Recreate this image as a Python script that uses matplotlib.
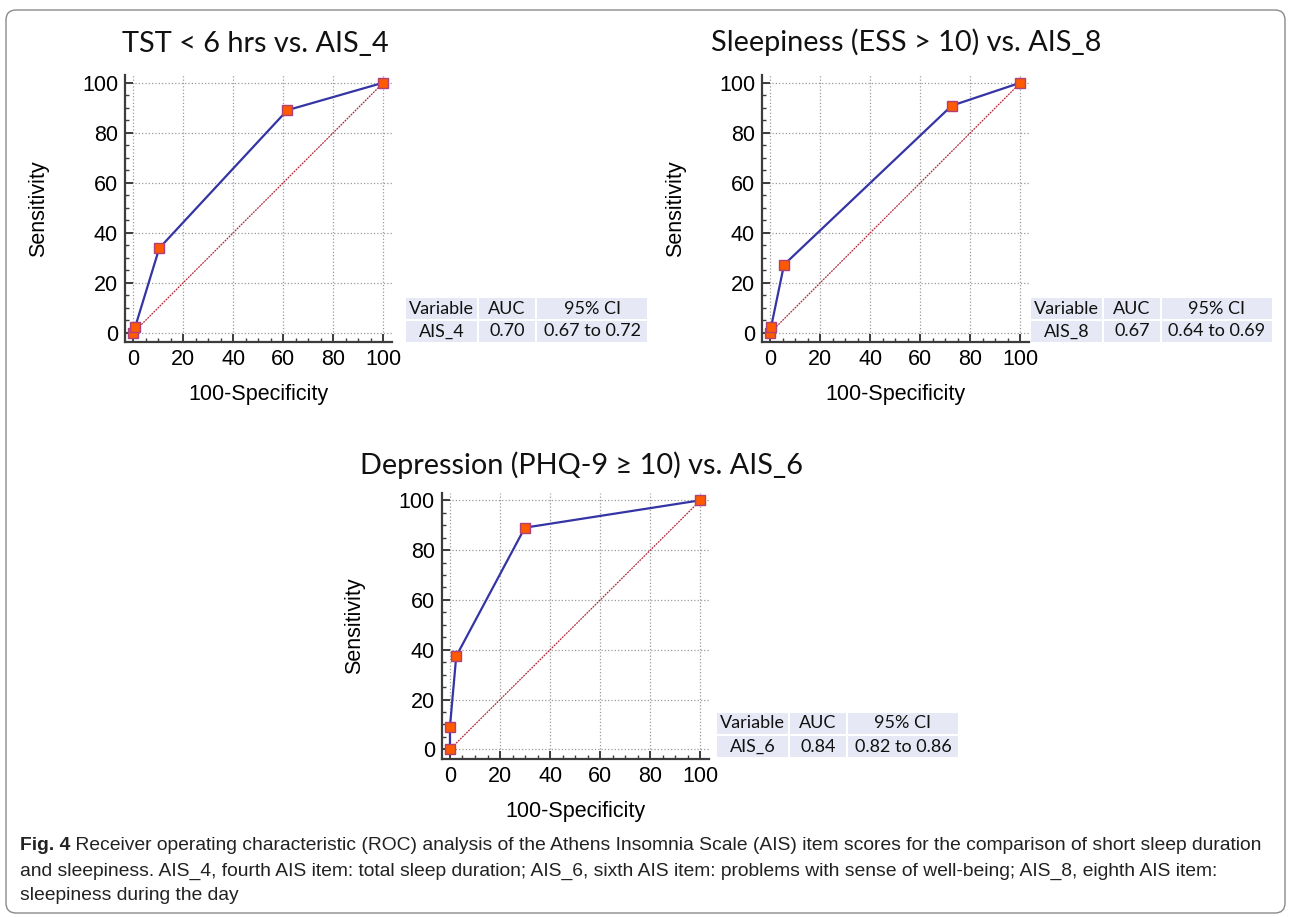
import matplotlib
matplotlib.use("Agg")
import matplotlib.pyplot as plt
from matplotlib.patches import Rectangle, FancyBboxPatch
from matplotlib.transforms import IdentityTransform
from matplotlib.ticker import MultipleLocator

W, H = 1290, 917

# ROC points (100-Specificity, Sensitivity)
fpr_ais4 = [0, 0.8, 10.4, 61.6, 100]
tpr_ais4 = [0, 2.4, 33.8, 89.0, 100]
fpr_ais8 = [0, 0.3, 5.5, 72.5, 100]
tpr_ais8 = [0, 2.1, 27.2, 90.8, 100]
fpr_ais6 = [0, 0, 2.5, 29.9, 100]
tpr_ais6 = [0, 9.1, 37.4, 89.0, 100]

titles = ["TST < 6 hrs vs. AIS_4", "Sleepiness (ESS > 10) vs. AIS_8",
          "Depression (PHQ-9 \u2265 10) vs. AIS_6"]
table_header = ["Variable", "AUC", "95% CI"]
table_rows = [["AIS_4", "0.70", "0.67 to 0.72"],
              ["AIS_8", "0.67", "0.64 to 0.69"],
              ["AIS_6", "0.84", "0.82 to 0.86"]]

caption_bold = "Fig. 4"
caption_lines = [
    " Receiver operating characteristic (ROC) analysis of the Athens Insomnia Scale (AIS) item scores for the comparison of short sleep duration",
    "and sleepiness. AIS_4, fourth AIS item: total sleep duration; AIS_6, sixth AIS item: problems with sense of well-being; AIS_8, eighth AIS item:",
    "sleepiness during the day",
]

title_font = ["Lato", "DejaVu Sans"]
tick_font = ["Liberation Sans", "DejaVu Sans"]
cap_font = ["Liberation Sans", "DejaVu Sans"]

fig = plt.figure(figsize=(W / 100, H / 100), dpi=100)
fig.patch.set_facecolor("white")


def px_axes(x0, y0, x1, y1):
    return fig.add_axes([x0 / W, 1 - y1 / H, (x1 - x0) / W, (y1 - y0) / H])


def draw_roc(ax, fx, fy, ylo):
    ax.set_xlim(-3.3, 103.4)
    ax.set_ylim(ylo, 103)
    ax.xaxis.set_major_locator(MultipleLocator(20))
    ax.yaxis.set_major_locator(MultipleLocator(20))
    ax.xaxis.set_minor_locator(MultipleLocator(5))
    ax.yaxis.set_minor_locator(MultipleLocator(5))
    ax.grid(True, which="major", linestyle=":", color="#9a9a9a", linewidth=0.9)
    ax.set_axisbelow(True)
    for s in ["top", "right"]:
        ax.spines[s].set_visible(False)
    for s in ["left", "bottom"]:
        ax.spines[s].set_color("#3c3c3c")
        ax.spines[s].set_linewidth(1.6)
    ax.tick_params(which="major", direction="in", length=6, width=1.4,
                   color="#3c3c3c", labelsize=15.5, pad=5)
    ax.tick_params(which="minor", direction="in", length=3, width=1.0,
                   color="#3c3c3c")
    for lab in ax.get_xticklabels() + ax.get_yticklabels():
        lab.set_family(tick_font)
    ax.plot([0, 100], [0, 100], color="#b02a3a", linewidth=0.9,
            linestyle=(0, (1.5, 0.8)), zorder=2)
    ax.plot(fx, fy, color="#3434a4", linewidth=1.6, zorder=3)
    ax.plot(fx, fy, "s", markersize=6.5, markerfacecolor="#ff5a00",
            markeredgecolor="#b0407a", markeredgewidth=1.0, zorder=4,
            clip_on=False)
    ax.set_xlabel("100-Specificity", fontsize=15.5, family=tick_font, labelpad=10)
    ax.set_ylabel("Sensitivity", fontsize=15.5, family=tick_font, labelpad=24)


ax1 = px_axes(125, 75.2, 391.8, 341.7)
draw_roc(ax1, fpr_ais4, tpr_ais4, -3.6)
ax2 = px_axes(762, 75.2, 1029, 341.7)
draw_roc(ax2, fpr_ais8, tpr_ais8, -3.6)
ax3 = px_axes(441.7, 492.8, 709, 759.3)
draw_roc(ax3, fpr_ais6, tpr_ais6, -4.0)

# titles
for (cx, cy), t in zip([(255, 44), (906, 42), (582, 465)], titles):
    fig.text(cx / W, 1 - cy / H, t, ha="center", va="center",
             fontsize=20.8, family=title_font, color="#111111")


def draw_table(x0, y0, row):
    widths = [73, 58, 112]
    rh = 23
    for r, vals in enumerate([table_header, row]):
        x = x0
        for w, v in zip(widths, vals):
            yt = y0 + r * rh
            fig.add_artist(Rectangle((x + 1, H - (yt + rh - 1)), w - 2, rh - 2,
                                     facecolor="#e6e9f5", edgecolor="none",
                                     transform=IdentityTransform()))
            fig.text((x + w / 2) / W, 1 - (yt + rh / 2) / H, v, ha="center",
                     va="center", fontsize=13, family=title_font,
                     color="#111111")
            x += w


draw_table(405, 297, table_rows[0])
draw_table(1030, 297, table_rows[1])
draw_table(716, 712, table_rows[2])

# frame around the figure
fig.add_artist(FancyBboxPatch((6, 4), 1279, H - 14,
                              boxstyle="round,pad=0,rounding_size=10",
                              facecolor="none", edgecolor="#8a8a8a",
                              linewidth=1.0, transform=IdentityTransform()))

# caption
renderer = fig.canvas.get_renderer()
tb = fig.text(20 / W, 1 - 846 / H, caption_bold, ha="left", va="center",
              fontsize=13.9, family=cap_font, weight="bold", color="#222222")
bb = tb.get_window_extent(renderer)
fig.text(bb.x1 / W, 1 - 846 / H, caption_lines[0], ha="left", va="center",
         fontsize=13.9, family=cap_font, color="#222222")
fig.text(20 / W, 1 - 871 / H, caption_lines[1], ha="left", va="center",
         fontsize=13.9, family=cap_font, color="#222222")
fig.text(20 / W, 1 - 895 / H, caption_lines[2], ha="left", va="center",
         fontsize=13.9, family=cap_font, color="#222222")

fig.savefig("out.png", dpi=100)
